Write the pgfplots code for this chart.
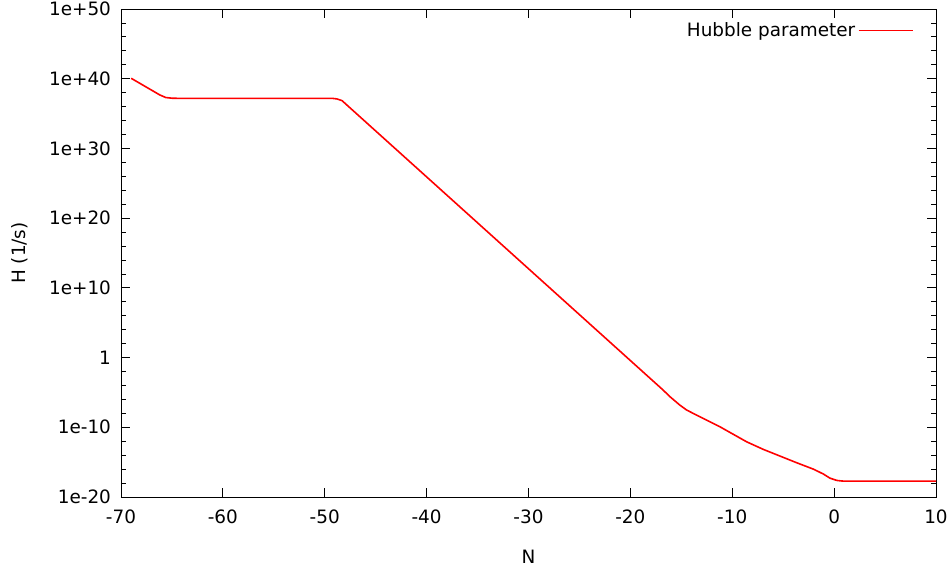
\documentclass[border=0pt]{standalone}
\usepackage{fontspec}
\setmainfont{DejaVu Sans}
\usepackage{pgfplots}
\pgfplotsset{compat=1.18}
\begin{document}
\begin{tikzpicture}
\begin{axis}[
  at={(0,0)}, anchor=south west,
  scale only axis, width=611.25pt, height=366pt,
  font=\fontsize{13.8}{16}\selectfont,
  xmin=-70, xmax=10,
  ymode=log, ymin=1e-20, ymax=1e50,
  xtick={-70,-60,-50,-40,-30,-20,-10,0,10},
  xticklabels={-70,-60,-50,-40,-30,-20,-10,0,10},
  ytick={1e-20,1e-10,1,1e10,1e20,1e30,1e40,1e50},
  yticklabels={1e-20,1e-10,1,1e+10,1e+20,1e+30,1e+40,1e+50},
  minor ytick={1e-18,1e-16,1e-14,1e-12,1e-8,1e-6,1e-4,1e-2,1e2,1e4,1e6,1e8,1e12,1e14,1e16,1e18,1e22,1e24,1e26,1e28,1e32,1e34,1e36,1e38,1e42,1e44,1e46,1e48},
  tick align=inside,
  major tick length=7pt, minor tick length=3.5pt,
  every tick/.style={black, line width=0.6pt},
  axis line style={black, line width=0.6pt},
  xticklabel style={yshift=-6pt},
  yticklabel style={xshift=-4pt},
  xlabel={N}, ylabel={H (1/s)},
  every axis x label/.style={at={(axis description cs:0.5,-0.123)}, anchor=center},
  every axis y label/.style={at={(axis description cs:-0.124,0.5)}, rotate=90, anchor=center},
  legend style={draw=none, fill=none, at={(axis description cs:0.9785,0.956)}, anchor=east, font=\fontsize{13.8}{16}\selectfont},
  legend plot pos=right,
  legend cell align=right,
  legend image code/.code={\draw[#1] (13pt,0pt) -- (54pt,0pt);},
]
\addplot[red, line width=1.2pt, line join=round] coordinates {
(-69.0,1.15e40)
(-66.2,4.79e37)
(-65.6,2.0e37)
(-65.0,1.6e37)
(-64.5,1.55e37)
(-49.3,1.55e37)
(-48.8,1.26e37)
(-48.3,7.08e36)
(-16.8,2.29e-5)
(-16.12,2.51e-6)
(-15.6,5.62e-7)
(-15.14,1.51e-7)
(-14.5,3.16e-8)
(-13.83,9.77e-9)
(-12.51,1.07e-9)
(-11.2,1.17e-10)
(-10.05,1.32e-11)
(-8.59,8.32e-13)
(-6.95,6.76e-14)
(-5.31,7.41e-15)
(-3.67,8.13e-16)
(-2.04,1.0e-16)
(-1.06,2.0e-17)
(-0.4,5.0e-18)
(0.26,2.4e-18)
(0.8,1.95e-18)
(1.5,1.91e-18)
(10,1.91e-18)
};
\addlegendentry{Hubble parameter}
\end{axis}
\pgfresetboundingbox
\path[use as bounding box] (-90.75pt,-56.25pt) rectangle (623.25pt,372.75pt);
\end{tikzpicture}
\end{document}
